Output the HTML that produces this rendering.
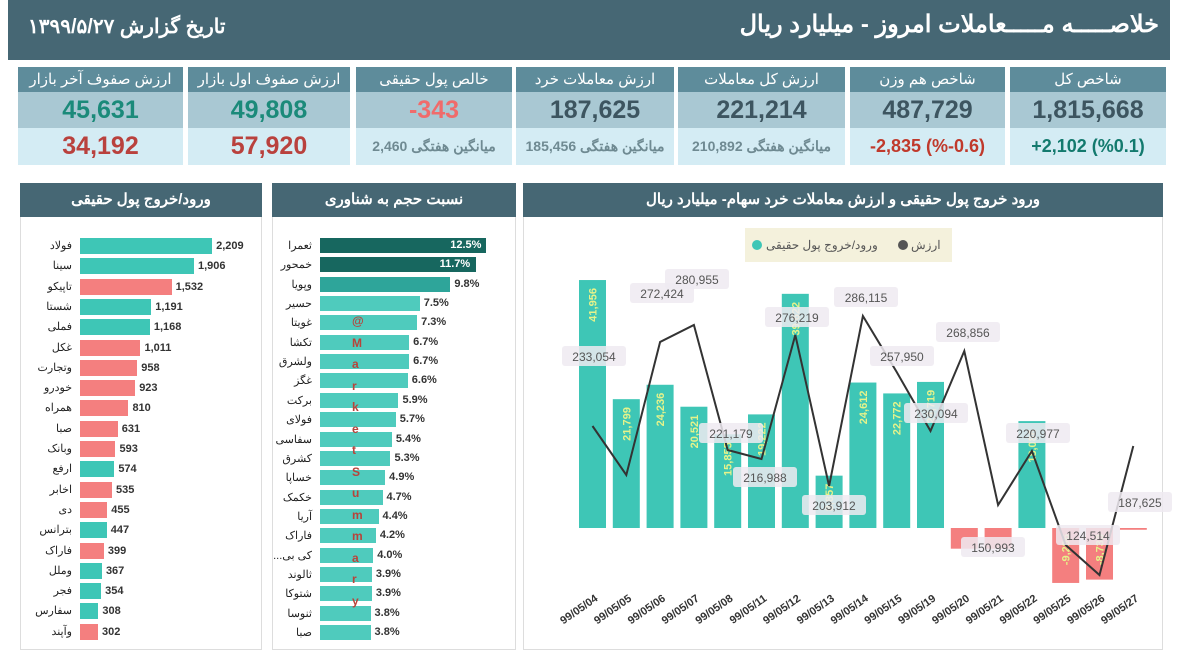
<!DOCTYPE html>
<html><head><meta charset="utf-8"><style>
body{margin:0;width:1181px;height:661px;background:#fff;position:relative;overflow:hidden;font-family:"Liberation Sans","Noto Sans CJK SC",sans-serif}
.a{position:absolute}
.hd{background:#466774;color:#fff;text-align:center;font-weight:bold}
.card{position:absolute;top:67px;height:98px}
.card .h{height:25px;background:#5e8c9b;color:#fff;font-size:15px;text-align:center;line-height:25px;direction:rtl}
.card .v{height:36px;background:#a9c8d3;font-size:25px;font-weight:bold;text-align:center;line-height:36px;color:#3d5560}
.card .b{height:37px;background:#d4ecf4;font-size:18px;font-weight:bold;text-align:center;line-height:37px}
.card .s{font-size:14px;color:#6f8a92}
.lb{position:absolute;font-size:11px;text-align:right;width:58px;color:#222}
.vl{position:absolute;font-size:11px;font-weight:bold;color:#333}
</style></head><body>
<div class="a hd" style="left:8px;top:0;width:1162px;height:60px"></div>
<div class="a" style="right:22px;top:10px;color:#fff;font-size:24px;font-weight:bold;direction:rtl">خلاصـــــه مـــــعاملات امروز - میلیارد ریال</div>
<div class="a" style="left:28px;top:14px;color:#fff;font-size:20px;font-weight:bold;direction:rtl">تاریخ گزارش ۱۳۹۹/۵/۲۷</div>

<div class="card" style="left:1010px;width:156px"><div class="h">شاخص کل</div><div class="v">1,815,668</div><div class="b" style="color:#137a6e">+2,102 (%0.1)</div></div>
<div class="card" style="left:850px;width:155px"><div class="h">شاخص هم وزن</div><div class="v">487,729</div><div class="b" style="color:#c0392b">-2,835 (%-0.6)</div></div>
<div class="card" style="left:678px;width:167px"><div class="h">ارزش کل معاملات</div><div class="v">221,214</div><div class="b s">میانگین هفتگی 210,892</div></div>
<div class="card" style="left:516px;width:158px"><div class="h">ارزش معاملات خرد</div><div class="v">187,625</div><div class="b s">میانگین هفتگی 185,456</div></div>
<div class="card" style="left:356px;width:156px"><div class="h">خالص پول حقیقی</div><div class="v" style="color:#f06b6b">-343</div><div class="b s">میانگین هفتگی 2,460</div></div>
<div class="card" style="left:188px;width:162px"><div class="h">ارزش صفوف اول بازار</div><div class="v" style="color:#1b8a7a">49,808</div><div class="b" style="color:#b9413d;font-size:25px">57,920</div></div>
<div class="card" style="left:18px;width:165px"><div class="h">ارزش صفوف آخر بازار</div><div class="v" style="color:#1b8a7a">45,631</div><div class="b" style="color:#b9413d;font-size:25px">34,192</div></div>

<div class="a" style="left:20px;top:183px;width:242px;height:467px;border:1px solid #ddd;box-sizing:border-box"></div>
<div class="a hd" style="left:20px;top:183px;width:242px;height:34px;line-height:34px;font-size:15px">ورود/خروج پول حقیقی</div>
<div class="a" style="left:272px;top:183px;width:244px;height:467px;border:1px solid #ddd;box-sizing:border-box"></div>
<div class="a hd" style="left:272px;top:183px;width:244px;height:34px;line-height:34px;font-size:15px">نسبت حجم به شناوری</div>
<div class="a" style="left:523px;top:183px;width:640px;height:467px;border:1px solid #ddd;box-sizing:border-box"></div>
<div class="a hd" style="left:523px;top:183px;width:640px;height:34px;line-height:34px;font-size:15px">ورود خروج پول حقیقی و ارزش معاملات خرد سهام- میلیارد ریال</div>

<div id="L"></div><div id="M"></div>
<svg class="a" style="left:0;top:0" width="1181" height="661" id="S"></svg>
<script>
var T='#3ec6b6',R='#f47f7f';
var ln=['فولاد','سینا','تاپیکو','شستا','فملی','غکل','وتجارت','خودرو','همراه','صبا','وبانک','ارفع','اخابر','دی','بترانس','فاراک','وملل','فجر','سفارس','وآپند'];
var lv=[2209,1906,1532,1191,1168,1011,958,923,810,631,593,574,535,455,447,399,367,354,308,302];
var lc='TTRTTRRRRRRTRRTRTTTR';
var h='';
for(var i=0;i<20;i++){var y=238+i*20.3,w=lv[i]*0.0598;
h+='<div class="lb" style="left:14px;top:'+(y+1)+'px">'+ln[i]+'</div>';
h+='<div class="a" style="left:80px;top:'+y+'px;width:'+w+'px;height:16px;background:'+(lc[i]=='T'?T:R)+'"></div>';
h+='<div class="vl" style="left:'+(84+w)+'px;top:'+(y+2)+'px">'+lv[i].toLocaleString('en-US')+'</div>';}
document.getElementById('L').innerHTML=h;
var mn=['ثعمرا','خمحور','وپویا','حسیر','غویتا','تکشا','ولشرق','غگز','برکت','فولای','سفاسی','کشرق','خساپا','خکمک','آریا','فاراک','...کی بی','ثالوند','شتوکا','ثنوسا','صبا'];
var mv=[12.5,11.7,9.8,7.5,7.3,6.7,6.7,6.6,5.9,5.7,5.4,5.3,4.9,4.7,4.4,4.2,4.0,3.9,3.9,3.8,3.8];
h='';
for(i=0;i<21;i++){var y=238+i*19.35,w=mv[i]*13.3;var c=i<2?'#17675f':i==2?'#2ea59a':'#4fcbbd';
h+='<div class="lb" style="left:254px;top:'+(y+1)+'px">'+mn[i]+'</div>';
h+='<div class="a" style="left:320px;top:'+y+'px;width:'+w+'px;height:15px;background:'+c+'"></div>';
if(i<2)h+='<div class="vl" style="left:'+(320+w-36)+'px;top:'+(y+1)+'px;color:#fff">'+mv[i].toFixed(1)+'%</div>';
else h+='<div class="vl" style="left:'+(324+w)+'px;top:'+(y+1)+'px">'+mv[i].toFixed(1)+'%</div>';}
var wm='@MarketSummary';
for(i=0;i<wm.length;i++)h+='<div class="a" style="left:352px;top:'+(314+i*21.5)+'px;font-size:12px;font-weight:bold;color:#b8433a">'+wm[i]+'</div>';
document.getElementById('M').innerHTML=h;
var bv=[41956,21799,24236,20521,15855,19222,39622,8857,24612,22772,24719,-3500,-3500,18086,-9296,-8733,-300];
var ds=['04','05','06','07','08','11','12','13','14','15','19','20','21','22','25','26','27'];
var ly=[426,475,342,325,450,459,335,486,316,372,431,351,505,451,545,575,446];
var s='<rect x="745" y="228" width="207" height="34" fill="#f4f1dc"/>';
s+='<circle cx="757" cy="245" r="5" fill="'+T+'"/><text x="766" y="249" font-size="12" fill="#555">ورود/خروج پول حقیقی</text>';
s+='<circle cx="903" cy="245" r="5" fill="#555"/><text x="911" y="249" font-size="12" fill="#555">ارزش</text>';
var B=528,pts=[];
for(i=0;i<17;i++){var x=579+i*33.8,v=bv[i],hh=Math.abs(v)*0.00591,cx=x+13.5;
s+='<rect x="'+x+'" y="'+(v>0?B-hh:B)+'" width="27" height="'+Math.max(hh,1.5)+'" fill="'+(v>0?T:R)+'"/>';
if(Math.abs(v)>1000&&(v>0||i>13)){var ty=v>0?B-hh+8:B+6;var lab=(v<0?'-':'')+Math.abs(v).toLocaleString('en-US');
s+='<text transform="translate('+(cx+4)+','+ty+') rotate(-90)" font-size="11" font-weight="bold" fill="#e6f38a" text-anchor="end">'+lab+'</text>';}
pts.push(cx+','+ly[i]);
s+='<text transform="translate('+(cx+6)+',600) rotate(-35)" font-size="11" font-weight="bold" fill="#333" text-anchor="end">99/05/'+ds[i]+'</text>';}
s+='<polyline points="'+pts.join(' ')+'" fill="none" stroke="#333" stroke-width="2"/>';
var L=[['233,054',594,357],['272,424',662,294],['280,955',697,280],['221,179',731,434],['216,988',765,478],['276,219',797,318],['203,912',834,506],['286,115',866,298],['257,950',902,357],['230,094',936,414],['268,856',968,333],['150,993',993,548],['220,977',1038,434],['124,514',1088,536],['187,625',1140,503]];
L.forEach(function(a){s+='<rect x="'+(a[1]-32)+'" y="'+(a[2]-11)+'" width="64" height="20" rx="3" fill="#eeeaf1" opacity="0.85"/><text x="'+a[1]+'" y="'+(a[2]+4)+'" font-size="12" fill="#555" text-anchor="middle">'+a[0]+'</text>';});
document.getElementById('S').innerHTML=s;
</script>
</body></html>
